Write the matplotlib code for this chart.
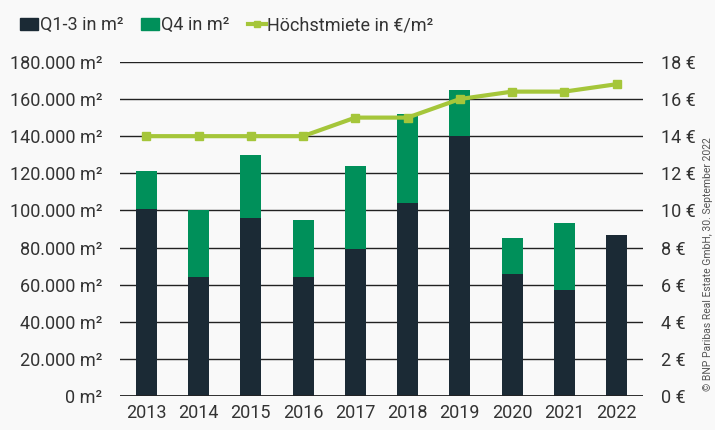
import matplotlib.pyplot as plt
import matplotlib.ticker as mticker
from matplotlib.lines import Line2D
from matplotlib.patches import Patch

years = ['2013', '2014', '2015', '2016', '2017', '2018', '2019', '2020', '2021', '2022']
q13 = [101000, 64000, 96000, 64000, 79000, 104000, 140000, 66000, 57000, 87000]
q4 = [20000, 36000, 34000, 31000, 45000, 48000, 25000, 19000, 36000, 0]
rent = [14, 14, 14, 14, 15, 15, 16, 16.4, 16.4, 16.8]

DARK = '#1b2a35'
GREEN = '#00905a'
LIME = '#a5c63a'
BG = '#f9f9f9'

plt.rcParams['font.family'] = ['Roboto', 'DejaVu Sans']

fig = plt.figure(figsize=(7.15, 4.3), dpi=100, facecolor=BG)
ax = fig.add_axes([0.168, 0.079, 0.731, 0.777])
ax.set_facecolor(BG)

x = range(len(years))
ax.bar(x, q13, width=0.4, color=DARK, zorder=2)
ax.bar(x, q4, width=0.4, bottom=q13, color=GREEN, zorder=2)

ax.set_ylim(0, 180000)
ax.set_xlim(-0.5, len(years) - 0.5)
ax.yaxis.set_major_locator(mticker.MultipleLocator(20000))
ax.yaxis.set_major_formatter(mticker.FuncFormatter(
    lambda v, p: '{:,.0f} m²'.format(v).replace(',', '.')))
ax.grid(axis='y', color='#222222', linewidth=1, zorder=0)
ax.axhline(0, color='#222222', linewidth=2, zorder=3)
ax.set_xticks(list(x))
ax.set_xticklabels(years)
for s in ax.spines.values():
    s.set_visible(False)
ax.tick_params(axis='y', length=0, labelsize=13, colors='#333333', pad=13)
ax.tick_params(axis='x', length=0, labelsize=13, colors='#333333', pad=6)

ax2 = ax.twinx()
ax2.plot(x, rent, color=LIME, linewidth=3, marker='s', markersize=6, zorder=3)
ax2.set_ylim(0, 18)
ax2.yaxis.set_major_locator(mticker.MultipleLocator(2))
ax2.yaxis.set_major_formatter(mticker.FuncFormatter(lambda v, p: '{:.0f} €'.format(v)))
for s in ax2.spines.values():
    s.set_visible(False)
ax2.tick_params(length=0, labelsize=13, colors='#333333', pad=13)

handles = [Patch(color=DARK), Patch(color=GREEN),
           Line2D([0], [0], color=LIME, linewidth=3, marker='s', markersize=5)]
labels = ['Q1-3 in m²', 'Q4 in m²', 'Höchstmiete in €/m²']
fig.legend(handles, labels, loc='upper left', bbox_to_anchor=(0.005, 1.0), ncol=3,
           frameon=False, fontsize=13, handlelength=1.0, handletextpad=0.1,
           columnspacing=1.0, labelcolor='#333333')

fig.text(0.99, 0.385, '© BNP Paribas Real Estate GmbH, 30. September 2022', rotation=90,
         fontsize=7.5, color='#555555', ha='center', va='center')

fig.savefig('out.png', dpi=100, facecolor=BG)
